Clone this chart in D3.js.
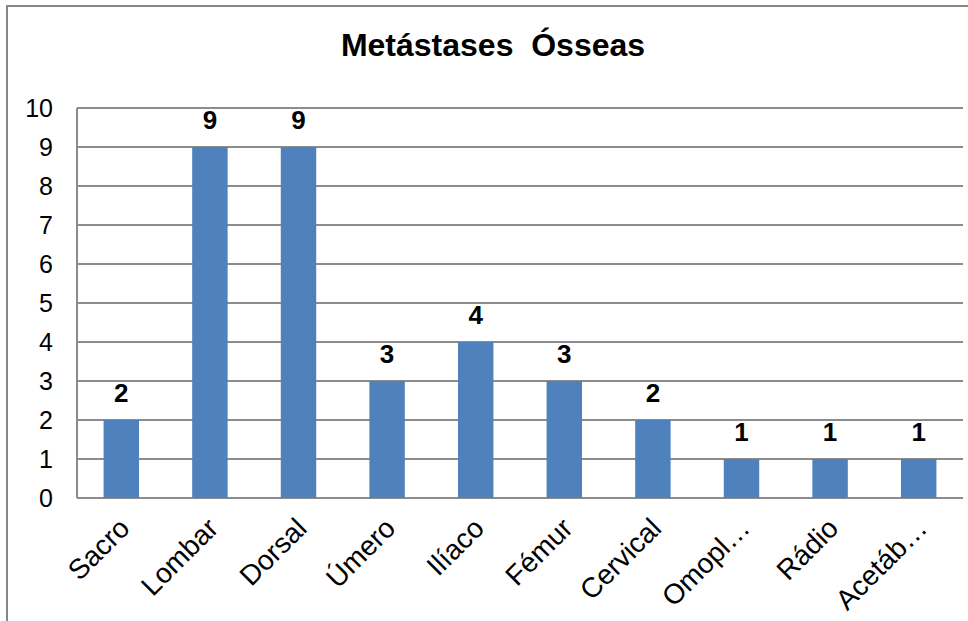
<!DOCTYPE html>
<html>
<head>
<meta charset="utf-8">
<script src="https://cdn.jsdelivr.net/npm/d3@7"></script>
<style>
  html, body { margin: 0; padding: 0; background: #fff; }
  svg { display: block; font-family: Arial, "Liberation Sans", sans-serif; }
</style>
</head>
<body>
<svg id="chart" width="968" height="621"></svg>
<script>
// Bone metastasis counts by site
const categories = ["Sacro", "Lombar", "Dorsal", "Úmero", "Ilíaco", "Fémur", "Cervical", "Omopl…", "Rádio", "Acetáb…"];
const counts = [2, 9, 9, 3, 4, 3, 2, 1, 1, 1];
const yTicks = [0, 1, 2, 3, 4, 5, 6, 7, 8, 9, 10];
const title = "Metástases  Ósseas";

const svg = d3.select("#chart");
const W = 968, H = 621;
const plot = { left: 77, right: 963, top: 108, bottom: 498 };

// outer chart frame (extends past the right and bottom edges)
svg.append("rect")
  .attr("x", 7).attr("y", 6).attr("width", W + 10).attr("height", H + 10)
  .attr("fill", "#fff").attr("stroke", "#868686").attr("stroke-width", 2);

const x = d3.scaleBand().domain(categories).range([plot.left, plot.right]).paddingInner(0.6).paddingOuter(0.3);
const y = d3.scaleLinear().domain([0, 10]).range([plot.bottom, plot.top]);

// horizontal gridlines
svg.append("g").selectAll("line").data(yTicks).join("line")
  .attr("x1", plot.left).attr("x2", plot.right)
  .attr("y1", d => y(d)).attr("y2", d => y(d))
  .attr("stroke", "#8c8c8c").attr("stroke-width", 2);

// vertical axis line
svg.append("line")
  .attr("x1", plot.left).attr("x2", plot.left)
  .attr("y1", plot.top).attr("y2", plot.bottom)
  .attr("stroke", "#8c8c8c").attr("stroke-width", 2);

// y tick labels
svg.append("g").selectAll("text").data(yTicks).join("text")
  .attr("x", 53).attr("y", d => y(d))
  .attr("dy", "0.36em")
  .attr("text-anchor", "end")
  .attr("font-size", 25)
  .attr("fill", "#000")
  .text(d => d);

// bars
svg.append("g").selectAll("rect").data(counts).join("rect")
  .attr("x", (d, i) => x(categories[i]))
  .attr("width", x.bandwidth())
  .attr("y", d => y(d))
  .attr("height", d => y(0) - y(d))
  .attr("fill", "#4f81bd");

// value labels above bars
svg.append("g").selectAll("text").data(counts).join("text")
  .attr("x", (d, i) => x(categories[i]) + x.bandwidth() / 2)
  .attr("y", d => y(d) - 18)
  .attr("text-anchor", "middle")
  .attr("font-size", 26)
  .attr("font-weight", "bold")
  .attr("fill", "#000")
  .text(d => d);

// rotated category labels
svg.append("g").selectAll("text").data(categories).join("text")
  .attr("transform", d => `translate(${x(d) + x.bandwidth() / 2 + 10},${plot.bottom + 32}) rotate(-45)`)
  .attr("text-anchor", "end")
  .attr("font-size", 28)
  .attr("fill", "#000")
  .text(d => d);

// title
svg.append("text")
  .attr("x", 493).attr("y", 56)
  .attr("text-anchor", "middle")
  .attr("font-size", 32)
  .attr("font-weight", "bold")
  .attr("fill", "#000")
  .style("white-space", "pre")
  .text(title);
</script>
</body>
</html>
